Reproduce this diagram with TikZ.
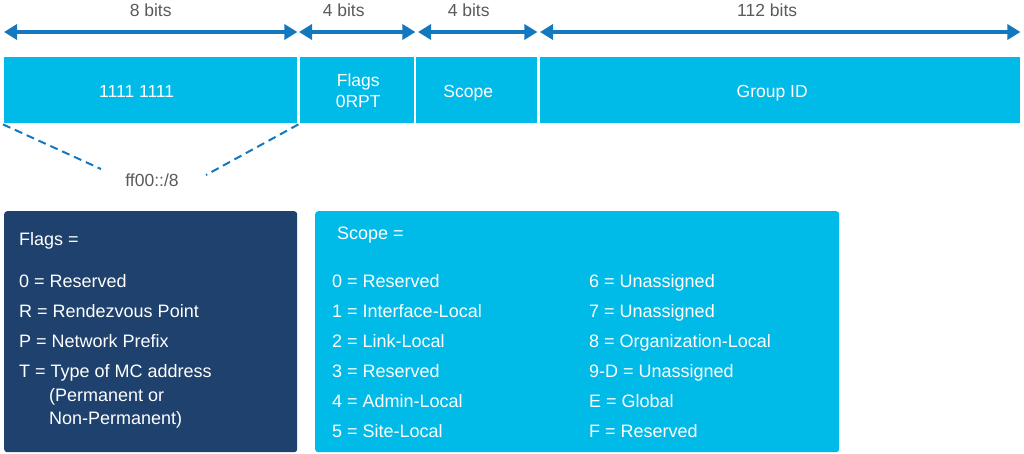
\documentclass[tikz,border=0pt]{standalone}
\usepackage{fontspec}
\setmainfont{Liberation Sans}
\usetikzlibrary{positioning,arrows.meta}
\definecolor{fieldblue}{RGB}{0,186,232}
\definecolor{navybox}{RGB}{31,65,110}
\definecolor{arrowblue}{RGB}{20,120,190}
\definecolor{labelgrey}{RGB}{90,90,90}

\begin{document}
\begin{tikzpicture}
[x=1pt, y=-1pt,
field/.style={rectangle, fill=fieldblue, minimum height=66pt, inner sep=0pt, anchor=north west},
fieldtext/.style={text=white, inner sep=0pt, align=center, font=\fontsize{17.5}{21}\selectfont},
infobox/.style={rectangle, rounded corners=3pt, minimum height=241pt, anchor=north west, inner sep=0pt},
item/.style={anchor=base west, text=white, inner sep=0pt, font=\fontsize{18}{21}\selectfont},
dimarrow/.style={draw=arrowblue, line width=4pt, {Triangle[length=13pt,width=15pt]}-{Triangle[length=13pt,width=15pt]}},
bitlabel/.style={midway, anchor=base, yshift=16pt, xshift=#1, inner sep=0pt, text=labelgrey, font=\fontsize{17.5}{20}\selectfont},
bitlabel/.default=0pt,
dashline/.style={draw=arrowblue, line width=2pt, dash pattern=on 8pt off 5pt},
]
    \useasboundingbox (0,0) rectangle (1024,453);

    % address fields
    \node (prefix) [field, minimum width=293pt] at (4,57) {};
    \node (flags) [field, minimum width=114pt] at (300,57) {};
    \node (scope) [field, minimum width=121pt] at (416,57) {};
    \node (groupid) [field, minimum width=480pt] at (540,57) {};
    \node (prefixtext) [fieldtext, anchor=base] at ([xshift=-14pt,yshift=-7pt]prefix.center) {1111 1111};
    \node (flagstext) [fieldtext] at ([xshift=1pt,yshift=-1pt]flags.center) {Flags\\0RPT};
    \node (scopetext) [fieldtext, anchor=base] at ([xshift=-8.5pt,yshift=-7pt]scope.center) {Scope};
    \node (groupidtext) [fieldtext, anchor=base] at ([xshift=-8pt,yshift=-7pt]groupid.center) {Group ID};

    % field widths
    \draw[dimarrow] ([yshift=25pt]prefix.north west) -- node[bitlabel]{8 bits} ([yshift=25pt]prefix.north east);
    \draw[dimarrow] ([xshift=-1pt,yshift=25pt]flags.north west) -- node[bitlabel=-13.5pt]{4 bits} ([xshift=1pt,yshift=25pt]flags.north east);
    \draw[dimarrow] ([xshift=2pt,yshift=25pt]scope.north west) -- node[bitlabel=-9pt]{4 bits} ([yshift=25pt]scope.north east);
    \draw[dimarrow] ([yshift=25pt]groupid.north west) -- node[bitlabel=-13pt]{112 bits} ([yshift=25pt]groupid.north east);

    % prefix
    \node (prefixlabel) [anchor=base, inner sep=0pt, text=labelgrey, font=\fontsize{17.5}{20}\selectfont] at (152,186) {ff00::/8};
    \coordinate (dashL) at (101,169);
    \coordinate (dashR) at (206,175);
    \draw[dashline] ([xshift=-1pt,yshift=-1pt]prefix.south west) -- (dashL);
    \draw[dashline] ([xshift=1pt,yshift=-1pt]prefix.south east) -- (dashR);

    % flags legend
    \node (flagbox) [infobox, fill=navybox, minimum width=293pt] at (4,211) {};
    \node (flagshead) [item] at (19,245) {Flags =};
    \foreach \txt [count=\i] in {0 = Reserved, R = Rendezvous Point, P = Network Prefix, T = Type of MC address}
        \node (flag\i) [item] at (19,257+30*\i) {\txt};
    \node (flag5) [item] at (49,401) {(Permanent or};
    \node (flag6) [item] at (49,424) {Non-Permanent)};

    % scope legend
    \node (scopebox) [infobox, fill=fieldblue, minimum width=524pt] at (315,211) {};
    \node (scopehead) [item] at (337,239) {Scope =};
    \foreach \txt [count=\i] in {0 = Reserved, 1 = Interface-Local, 2 = Link-Local, 3 = Reserved, 4 = Admin-Local, 5 = Site-Local}
        \node (scopeL\i) [item] at (332,257+30*\i) {\txt};
    \foreach \txt [count=\i] in {6 = Unassigned, 7 = Unassigned, 8 = Organization-Local, 9-D = Unassigned, E = Global, F = Reserved}
        \node (scopeR\i) [item] at (589,257+30*\i) {\txt};
\end{tikzpicture}
\end{document}
